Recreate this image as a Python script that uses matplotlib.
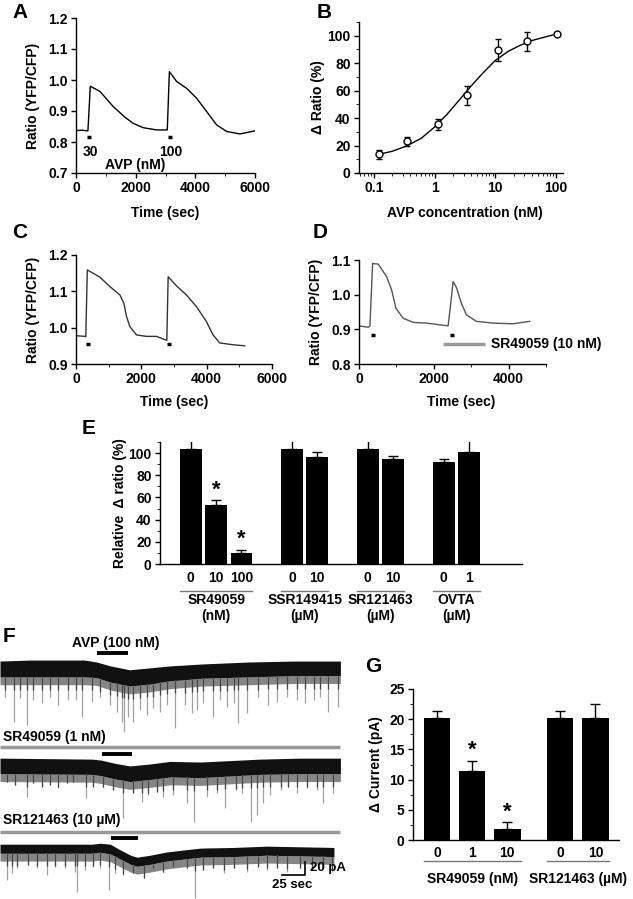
import numpy as np
import matplotlib
matplotlib.use('Agg')
import matplotlib.pyplot as plt
from matplotlib.ticker import MultipleLocator
import matplotlib.transforms as mtransforms

plt.rcParams['font.family'] = ['Liberation Sans', 'DejaVu Sans']
plt.rcParams['font.weight'] = 'bold'
plt.rcParams['axes.labelweight'] = 'bold'
plt.rcParams['font.size'] = 10
plt.rcParams['axes.linewidth'] = 1.0
plt.rcParams['xtick.major.width'] = 1.0
plt.rcParams['ytick.major.width'] = 1.0
plt.rcParams['xtick.major.size'] = 3.5
plt.rcParams['ytick.major.size'] = 3.5
plt.rcParams['xtick.minor.size'] = 2
plt.rcParams['ytick.minor.size'] = 2

W, H = 633, 899

# ---- panel A: ratio trace, 30 and 100 nM AVP
a_time = [0, 200, 400, 480, 805, 1250, 1640, 1920, 2260, 2700, 3060, 3130,
          3375, 3710, 4045, 4380, 4715, 5050, 5500, 6000]
a_ratio = [0.837, 0.838, 0.836, 0.98, 0.963, 0.914, 0.88, 0.86, 0.846, 0.839,
           0.839, 1.027, 0.995, 0.973, 0.941, 0.898, 0.855, 0.834, 0.826, 0.836]
a_stim = [(380, 490), (3095, 3205)]
a_stim_lbl = ['30', '100']

# ---- panel B: dose response
b_conc = [0.12, 0.35, 1.15, 3.4, 11, 33, 105]
b_resp = [13.5, 23, 35.5, 56.5, 89.5, 96, 101.5]
b_err = [3, 3, 4, 7, 8, 7, 0]
b_fit_x = [0.12, 0.2, 0.35, 0.6, 1.0, 1.6, 2.5, 4.0, 6.0, 10, 16, 25, 40, 65, 105]
b_fit_y = [13.6, 15.8, 19.8, 25.2, 33.5, 42.7, 52.7, 63.4, 72.0, 82.0, 88.4, 92.8, 96.5, 99.0, 101.4]

# ---- panel C
c_time = [0, 275, 300, 346, 733, 1039, 1344, 1466, 1548, 1650, 1853, 2159,
          2464, 2780, 2821, 3075, 3381, 3686, 3992, 4196, 4399, 4807, 5163]
c_ratio = [0.978, 0.976, 0.975, 1.159, 1.139, 1.113, 1.09, 1.067, 1.03, 1.003,
           0.98, 0.976, 0.976, 0.965, 1.14, 1.115, 1.09, 1.058, 1.017, 0.98,
           0.958, 0.953, 0.95]
c_stim = [(305, 428), (2800, 2923)]

# ---- panel D
d_time = [0, 249, 293, 364, 516, 738, 871, 987, 1182, 1449, 1804, 2160, 2382,
          2444, 2516, 2604, 2738, 2871, 3138, 3582, 4116, 4560]
d_ratio = [0.91, 0.906, 0.91, 1.09, 1.088, 1.052, 1.014, 0.961, 0.932, 0.92,
           0.918, 0.913, 0.91, 0.966, 1.038, 1.021, 0.975, 0.942, 0.923, 0.918,
           0.916, 0.923]
d_stim = [(311, 427), (2444, 2551)]
d_drug = (2249, 3360)

# ---- panel E
e_pos = [0, 1, 2, 4, 5, 7, 8, 10, 11]
e_lbl = ['0', '10', '100', '0', '10', '0', '10', '0', '1']
e_val = [103.6, 53.5, 9.9, 103.6, 96.7, 103.6, 94.3, 91.6, 100.6]
e_err = [7.8, 4.0, 3.0, 7.8, 4.2, 7.8, 3.0, 2.7, 13.0]
e_star = [1, 2]
e_groups = [(0, 2, 'SR49059\n(nM)'), (4, 5, 'SSR149415\n(\u00b5M)'),
            (7, 8, 'SR121463\n(\u00b5M)'), (10, 11, 'OVTA\n(\u00b5M)')]

# ---- panel G
g_pos = [0, 1, 2, 3.5, 4.5]
g_lbl = ['0', '1', '10', '0', '10']
g_val = [20.2, 11.4, 1.8, 20.2, 20.2]
g_err = [1.2, 1.7, 1.1, 1.2, 2.3]
g_star = [1, 2]
g_groups = [(0, 2, 'SR49059 (nM)'), (3.5, 4.5, 'SR121463 (\u00b5M)')]

# ---- panel F: current traces (s, pA relative to each trace's holding level)
f1_env_t = [0, 33, 65, 92, 105, 120, 141, 163, 185, 220, 270, 320, 370]
f1_top = [1.5, 3, 3, 3, 0, -6, -12, -9, -6, -3, 0, 1.5, 1.5]
f1_bot = [-23, -23, -23, -23, -24, -31, -37, -34, -29, -25, -23, -21, -21]
f1_sp_t = [5, 15, 22, 29, 36, 46, 54, 63, 74, 83, 89, 100, 109, 120, 127, 133,
           135, 139, 145, 152, 160, 166, 174, 182, 190, 201, 209, 214, 221, 231,
           239, 247, 254, 259, 269, 280, 291, 301, 312, 323, 332, 341, 348, 357, 367]
f1_sp_a = [-54, -92, -55, -97, -59, -63, -54, -66, -59, -59, -85, -62, -54, -66,
           -77, -92, -108, -85, -92, -74, -82, -71, -77, -66, -102, -66, -79, -74,
           -63, -85, -59, -69, -63, -94, -79, -54, -66, -62, -54, -59, -63, -59,
           -54, -77, -69]

f2_env_t = [0, 100, 110, 125, 141, 163, 185, 218, 283, 326, 370]
f2_top = [0, -1.5, -3, -8, -12, -9, -5, -6, -1.5, 0, 0]
f2_bot = [-24, -25, -27, -32, -36, -33, -29, -30, -25, -24, -24]
f2_sp_t = [8, 16, 29, 36, 46, 54, 63, 73, 79, 94, 101, 112, 123, 134, 145, 154,
           161, 171, 177, 188, 203, 211, 225, 236, 245, 256, 263, 273, 279, 286,
           294, 305, 313, 323, 334, 345, 351, 362]
f2_sp_a = [-37, -42, -60, -38, -45, -42, -46, -38, -37, -62, -45, -45, -49, -92,
           -54, -68, -57, -52, -60, -57, -69, -99, -60, -54, -77, -49, -54, -99,
           -88, -69, -57, -49, -45, -54, -46, -49, -69, -54]

f3_env_t = [0, 100, 109, 120, 131, 142, 149, 163, 181, 199, 218, 254, 290, 363]
f3_top = [0, 0, 1.5, 0, -9, -17, -20, -17, -12, -9, -6, -5, -3, -5]
f3_bot = [-14, -14, -12.5, -15, -23, -31, -34, -31, -26, -23, -20, -19, -17, -19]
f3_sp_t = [8, 13, 18, 30, 40, 51, 60, 71, 82, 84, 92, 101, 109, 118, 125, 134,
           145, 156, 166, 177, 188, 203, 212, 221, 232, 243, 254, 269, 280, 290,
           301, 312, 326, 339, 351, 361]
f3_sp_a = [-55, -45, -37, -32, -37, -48, -35, -37, -43, -74, -40, -35, -37, -71,
           -45, -48, -45, -52, -37, -43, -35, -37, -82, -40, -37, -45, -37, -43,
           -35, -40, -37, -43, -37, -40, -37, -43]


def rect(x0, y0, x1, y1):
    # pixel box -> figure fraction
    return [x0 / W, 1 - y1 / H, (x1 - x0) / W, (y1 - y0) / H]


def style(ax):
    ax.spines['top'].set_visible(False)
    ax.spines['right'].set_visible(False)
    ax.tick_params(direction='out', labelsize=10, pad=2.5)
    ax.tick_params(which='minor', direction='out')


def letter(x, y, s):
    fig.text(x / W, 1 - y / H, s, fontsize=15, fontweight='bold',
             ha='center', va='center')


fig = plt.figure(figsize=(W / 100, H / 100), dpi=100)

# ---- A
ax = fig.add_axes(rect(76, 18, 255, 173))
style(ax)
ax.plot(a_time, a_ratio, color='black', lw=1.0)
for (t0, t1), lbl in zip(a_stim, a_stim_lbl):
    ax.plot([t0, t1], [0.817, 0.817], color='black', lw=2.5, solid_capstyle='butt')
    ax.text((t0 + t1) / 2 + 40, 0.769, lbl, ha='center', va='center')
ax.text(1980, 0.726, 'AVP (nM)', ha='center', va='center')
ax.set_xlim(0, 6000)
ax.set_ylim(0.7, 1.2)
ax.set_xticks([0, 2000, 4000, 6000])
ax.xaxis.set_minor_locator(MultipleLocator(1000))
ax.set_yticks(np.arange(0.7, 1.21, 0.1))
ax.set_yticklabels(['0.7', '0.8', '0.9', '1.0', '1.1', '1.2'])
ax.set_xlabel('Time (sec)')
ax.set_ylabel('Ratio (YFP/CFP)')
ax.xaxis.set_label_coords(0.5, -0.215)
ax.yaxis.set_label_coords(-0.2, 0.5)
letter(20, 13, 'A')

# ---- B
ax = fig.add_axes(rect(359, 22, 563, 173))
style(ax)
ax.set_xscale('log')
ax.plot(b_fit_x, b_fit_y, color='black', lw=1.0)
ax.errorbar(b_conc, b_resp, yerr=b_err, fmt='o', ms=5, mfc='white', mec='black',
            mew=1.0, ecolor='black', elinewidth=1.0, capsize=2, capthick=1.0)
ax.set_xlim(0.057, 130)
ax.set_ylim(0, 110)
ax.set_xticks([0.1, 1, 10, 100])
ax.set_xticklabels(['0.1', '1', '10', '100'])
ax.set_yticks([0, 20, 40, 60, 80, 100])
ax.yaxis.set_minor_locator(MultipleLocator(10))
ax.set_xlabel('AVP concentration (nM)')
ax.set_ylabel('\u0394 Ratio (%)')
ax.xaxis.set_label_coords(0.52, -0.22)
ax.yaxis.set_label_coords(-0.167, 0.5)
letter(324, 13, 'B')

# ---- C
ax = fig.add_axes(rect(76, 255, 272, 364))
style(ax)
ax.plot(c_time, c_ratio, color='#333333', lw=1.0)
for t0, t1 in c_stim:
    ax.plot([t0, t1], [0.956, 0.956], color='black', lw=2.5, solid_capstyle='butt')
ax.set_xlim(0, 6000)
ax.set_ylim(0.9, 1.2)
ax.set_xticks([0, 2000, 4000, 6000])
ax.xaxis.set_minor_locator(MultipleLocator(1000))
ax.set_yticks([0.9, 1.0, 1.1, 1.2])
ax.set_yticklabels(['0.9', '1.0', '1.1', '1.2'])
ax.set_xlabel('Time (sec)')
ax.set_ylabel('Ratio (YFP/CFP)')
ax.xaxis.set_label_coords(0.5, -0.28)
ax.yaxis.set_label_coords(-0.184, 0.5)
letter(20, 233, 'C')

# ---- D
ax = fig.add_axes(rect(359, 260, 546, 364))
style(ax)
ax.plot(d_time, d_ratio, color='#555555', lw=1.0)
for t0, t1 in d_stim:
    ax.plot([t0, t1], [0.884, 0.884], color='black', lw=2.5, solid_capstyle='butt')
ax.plot(d_drug, [0.858, 0.858], color='#999999', lw=2.5, solid_capstyle='butt')
ax.text(3538, 0.858, 'SR49059 (10 nM)', ha='left', va='center')
ax.set_xlim(0, 5000)
ax.set_ylim(0.8, 1.1)
ax.set_xticks([0, 2000, 4000])
ax.xaxis.set_minor_locator(MultipleLocator(1000))
ax.set_yticks([0.8, 0.9, 1.0, 1.1])
ax.set_yticklabels(['0.8', '0.9', '1.0', '1.1'])
ax.set_xlabel('Time (sec)')
ax.set_ylabel('Ratio (YFP/CFP)')
ax.xaxis.set_label_coords(0.545, -0.295)
ax.yaxis.set_label_coords(-0.19, 0.5)
letter(320, 233, 'D')


def bar_panel(ax, pos, vals, errs, lbls, stars, groups, width, ul_y, grp_y, pad):
    ax.bar(pos, vals, width=width, color='black')
    ax.errorbar(pos, vals, yerr=[np.zeros(len(errs)), errs], fmt='none',
                ecolor='black', elinewidth=1.0, capsize=3.5, capthick=1.0)
    ax.set_xticks(pos)
    ax.set_xticklabels(lbls)
    ax.tick_params(axis='x', length=0, pad=pad)
    tr = mtransforms.blended_transform_factory(ax.transData, ax.transAxes)
    for i in stars:
        ax.text(pos[i], vals[i] + errs[i], '*', ha='center', va='bottom',
                fontsize=16, fontweight='bold')
    for g0, g1, name in groups:
        ax.plot([g0 - width / 2, g1 + width / 2], [ul_y, ul_y], color='#777777',
                lw=1.0, transform=tr, clip_on=False)
        ax.text((g0 + g1) / 2, grp_y, name, ha='center', va='top', transform=tr,
                linespacing=1.2)


# ---- E
ax = fig.add_axes(rect(160, 442, 522, 564))
style(ax)
bar_panel(ax, e_pos, e_val, e_err, e_lbl, e_star, e_groups, 0.86, -0.221, -0.24, 5)
ax.set_xlim(-1.22, 13.1)
ax.set_ylim(0, 110)
ax.set_yticks([0, 20, 40, 60, 80, 100])
ax.yaxis.set_minor_locator(MultipleLocator(10))
ax.set_ylabel('Relative  \u0394 ratio (%)')
ax.yaxis.set_label_coords(-0.091, 0.5)
letter(89, 429, 'E')

# ---- G
ax = fig.add_axes(rect(413, 689, 619, 840))
style(ax)
bar_panel(ax, g_pos, g_val, g_err, g_lbl, g_star, g_groups, 0.75, -0.139, -0.21, 4)
ax.set_xlim(-0.68, 5.17)
ax.set_ylim(0, 25)
ax.set_yticks([0, 5, 10, 15, 20, 25])
ax.yaxis.set_minor_locator(MultipleLocator(2.5))
ax.set_ylabel('\u0394 Current (pA)')
ax.yaxis.set_label_coords(-0.146, 0.5)
letter(373, 666, 'G')

# ---- F: sEPSC traces
ax = fig.add_axes(rect(0, 639, 345, 899))
ax.set_xlim(0, 375)
ax.set_ylim(-400, 0)
ax.axis('off')

traces = [
    (-35.4, f1_env_t, f1_top, f1_bot, f1_sp_t, f1_sp_a),
    (-183.3, f2_env_t, f2_top, f2_bot, f2_sp_t, f2_sp_a),
    (-315.7, f3_env_t, f3_top, f3_bot, f3_sp_t, f3_sp_a),
]
for off, et, top, bot, st, sa in traces:
    et = np.array(et)
    top = np.array(top) + off
    bot = np.array(bot) + off
    # haze of small events just under the dense band
    ax.fill_between(et, bot, bot - 12, color='#858585', lw=0)
    start = np.interp(st, et, bot)
    tip = np.array(sa) + off
    ax.vlines(st, start, tip, color='#a0a0a0', lw=0.9)
    ax.vlines(st, start, np.maximum(tip, start - 20), color='#444444', lw=0.9)
    ax.fill_between(et, top, bot, color='#111111', lw=0)

# drug application bars
ax.plot([105, 139], [-35.4 + 14, -35.4 + 14], color='black', lw=2.8, solid_capstyle='butt')
ax.plot([0, 370], [-183.3 + 17, -183.3 + 17], color='#999999', lw=2.5, solid_capstyle='butt')
ax.plot([111, 144], [-183.3 + 6, -183.3 + 6], color='black', lw=2.8, solid_capstyle='butt')
ax.plot([0, 370], [-315.7 + 18.5, -315.7 + 18.5], color='#999999', lw=2.5, solid_capstyle='butt')
ax.plot([121, 150], [-315.7 + 9, -315.7 + 9], color='black', lw=2.8, solid_capstyle='butt')
# scale bar 25 s / 20 pA
ax.plot([307, 332, 332], [-363, -363, -343], color='black', lw=1.2)

fig.text(116 / W, 1 - 643 / H, 'AVP (100 nM)', ha='center', va='center')
fig.text(3 / W, 1 - 737 / H, 'SR49059 (1 nM)', ha='left', va='center')
fig.text(3 / W, 1 - 820 / H, 'SR121463 (10 \u00b5M)', ha='left', va='center')
fig.text(310 / W, 1 - 868 / H, '20 pA', ha='left', va='center', fontsize=9.5)
fig.text(292 / W, 1 - 885 / H, '25 sec', ha='center', va='center', fontsize=9.5)
letter(9, 636, 'F')

fig.savefig('out.png', dpi=100)
